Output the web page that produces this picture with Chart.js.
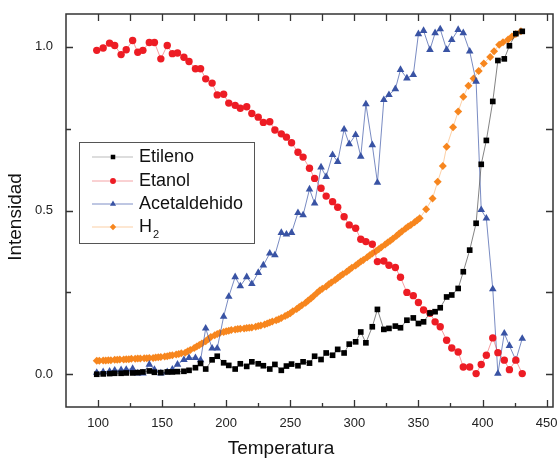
<!DOCTYPE html>
<html>
<head>
<meta charset="utf-8">
<script src="https://cdn.jsdelivr.net/npm/chart.js@4.4.0/dist/chart.umd.min.js"></script>
<style>
  html, body { margin: 0; padding: 0; background: #fff; }
</style>
</head>
<body>
<canvas id="grafico" width="559" height="459"></canvas>
<script>
// Temperaturas comunes (Etileno, Etanol, Acetaldehido)
const temperatura = [99,104,109,113,118,122,127,131,135,140,144,149,154,158,162,167,171,176,180,184,
  189,193,198,202,207,211,216,220,225,229,234,238,243,247,251,256,260,265,269,274,
  278,283,287,292,296,301,305,309,314,318,323,327,332,336,341,346,350,354,359,363,
  367,372,376,381,385,390,395,399,403,408,412,417,421,426,431];

const etileno = [0.000,0.001,0.002,0.003,0.003,0.004,0.004,0.005,0.007,0.010,
  0.006,0.005,0.007,0.007,0.008,0.009,0.012,0.020,0.033,0.016,
  0.044,0.055,0.035,0.027,0.016,0.032,0.024,0.038,0.032,0.026,
  0.016,0.030,0.012,0.025,0.031,0.026,0.038,0.034,0.055,0.045,
  0.065,0.058,0.076,0.065,0.092,0.099,0.129,0.096,0.145,0.198,
  0.137,0.140,0.147,0.142,0.165,0.172,0.155,0.160,0.187,0.191,
  0.203,0.236,0.242,0.262,0.313,0.379,0.461,0.641,0.714,0.833,
  0.958,0.963,1.003,1.040,1.047];

const etanol = [0.989,0.996,1.011,1.004,0.976,0.991,1.019,0.983,0.989,1.013,
  1.013,0.963,1.004,0.979,0.981,0.968,0.955,0.933,0.933,0.902,
  0.889,0.853,0.855,0.828,0.821,0.812,0.817,0.796,0.785,0.769,
  0.771,0.746,0.734,0.724,0.707,0.678,0.663,0.629,0.598,0.568,
  0.544,0.527,0.510,0.481,0.456,0.446,0.412,0.405,0.397,0.344,
  0.346,0.333,0.326,0.296,0.250,0.240,0.219,0.196,0.186,0.160,
  0.145,0.104,0.080,0.068,0.022,0.022,0.002,0.030,0.058,0.111,
  0.066,0.043,0.014,0.043,0.002];

const acetaldehido = [0.005,0.007,0.009,0.012,0.013,0.014,0.017,0.003,0.003,0.030,
  0.014,0.003,0.007,0.015,0.030,0.044,0.050,0.050,0.043,0.140,
  0.079,0.079,0.176,0.237,0.297,0.269,0.297,0.276,0.310,0.333,
  0.369,0.364,0.432,0.427,0.432,0.493,0.486,0.565,0.522,0.632,
  0.603,0.670,0.649,0.748,0.703,0.731,0.665,0.825,0.700,0.585,
  0.838,0.853,0.871,0.930,0.904,0.914,1.039,1.049,0.991,1.042,
  1.054,0.991,1.021,1.052,1.042,0.986,0.894,0.502,0.476,0.260,
  0.002,0.125,0.087,0.043,0.109];

// H2 medido con otra serie de temperaturas (mas densa)
const h2Temp = [99,101,104,106,108,110,113,115,117,120,122,124,126,129,131,133,136,138,140,143,
  145,147,149,152,154,156,158,161,163,165,168,170,172,175,177,179,181,184,186,188,
  191,193,195,198,200,202,204,207,209,211,214,216,218,220,223,225,227,230,232,234,
  236,239,241,243,246,248,250,252,255,257,259,262,264,266,268,271,273,275,278,280,
  282,285,287,289,291,294,296,298,301,303,305,307,310,312,314,317,319,321,324,326,
  328,330,333,335,337,340,342,344,347,349,351,356,361,365,369,372,377,381,385,389,
  393,397,401,406,409,413,416,420,423,426,430];

const h2 = [0.041,0.041,0.042,0.042,0.043,0.043,0.044,0.044,0.045,0.045,0.046,0.046,0.047,0.047,0.048,0.048,0.049,0.049,0.050,0.050,
  0.051,0.052,0.053,0.054,0.055,0.057,0.058,0.060,0.062,0.064,0.066,0.070,0.074,0.080,0.085,0.089,0.094,0.101,0.108,0.114,
  0.119,0.123,0.126,0.129,0.131,0.133,0.135,0.137,0.138,0.139,0.140,0.141,0.142,0.143,0.145,0.147,0.149,0.152,0.155,0.158,
  0.161,0.165,0.168,0.172,0.178,0.182,0.186,0.192,0.199,0.205,0.211,0.218,0.225,0.231,0.238,0.249,0.256,0.261,0.268,0.275,
  0.280,0.288,0.294,0.300,0.305,0.313,0.319,0.325,0.332,0.338,0.344,0.349,0.357,0.363,0.369,0.376,0.382,0.388,0.396,0.402,
  0.408,0.414,0.423,0.430,0.436,0.445,0.451,0.456,0.464,0.470,0.476,0.504,0.537,0.588,0.636,0.695,0.754,0.802,0.847,0.881,
  0.903,0.926,0.949,0.969,0.986,1.006,1.014,1.022,1.031,1.039,1.047];

const xTicks = [100,150,200,250,300,350,400,450];
const xMinor = [125,175,225,275,325,375,425];
const yTicks = [0, 0.5, 1.0];
const yMinor = [0.25, 0.75];

const fuente = "'Liberation Sans', Arial, sans-serif";

function puntos(xs, ys) {
  return xs.map((t, i) => ({ x: t, y: ys[i] }));
}

// Marco, marcas de los ejes, titulos y leyenda
const marcoPlugin = {
  id: 'marco',
  afterDraw(chart) {
    const ctx = chart.ctx;
    const a = chart.chartArea;
    const x = chart.scales.x, y = chart.scales.y;
    ctx.save();
    ctx.strokeStyle = '#333';
    ctx.lineWidth = 1.5;
    ctx.strokeRect(a.left, a.top, a.right - a.left, a.bottom - a.top);

    ctx.beginPath();
    xTicks.forEach(v => {
      const px = Math.round(x.getPixelForValue(v)) + 0.5;
      ctx.moveTo(px, a.bottom); ctx.lineTo(px, a.bottom - 7);
      ctx.moveTo(px, a.top); ctx.lineTo(px, a.top + 7);
    });
    xMinor.forEach(v => {
      const px = Math.round(x.getPixelForValue(v)) + 0.5;
      ctx.moveTo(px, a.bottom); ctx.lineTo(px, a.bottom - 4);
      ctx.moveTo(px, a.top); ctx.lineTo(px, a.top + 7);
    });
    yTicks.concat(yMinor).forEach(v => {
      const py = Math.round(y.getPixelForValue(v)) + 0.5;
      const l = yTicks.includes(v) ? 7 : 5;
      ctx.moveTo(a.left, py); ctx.lineTo(a.left + l, py);
      ctx.moveTo(a.right, py); ctx.lineTo(a.right - 7, py);
    });
    ctx.lineWidth = 1.3;
    ctx.stroke();

    // titulos de los ejes
    ctx.fillStyle = '#111';
    ctx.font = '19px ' + fuente;
    ctx.textAlign = 'center';
    ctx.textBaseline = 'middle';
    ctx.fillText('Temperatura', 281, 449);
    ctx.save();
    ctx.translate(16, 217);
    ctx.rotate(-Math.PI / 2);
    ctx.fillText('Intensidad', 0, 0);
    ctx.restore();

    // leyenda
    const bx = 79.5, by = 142.5, bw = 175, bh = 101;
    ctx.fillStyle = '#fff';
    ctx.fillRect(bx, by, bw, bh);
    ctx.strokeStyle = '#555';
    ctx.lineWidth = 1;
    ctx.strokeRect(bx, by, bw, bh);
    const filas = [157, 181, 204, 227];
    chart.data.datasets.forEach((ds, i) => {
      const ly = filas[i];
      ctx.beginPath();
      ctx.strokeStyle = ds.legendLine;
      ctx.lineWidth = 1;
      ctx.moveTo(92, ly); ctx.lineTo(133, ly);
      ctx.stroke();
      ctx.fillStyle = ds.pointBackgroundColor;
      ctx.strokeStyle = ds.pointBorderColor;
      Chart.helpers.drawPoint(ctx, {
        pointStyle: ds.pointStyle, radius: ds.pointRadius * 0.8, rotation: 0, borderWidth: 0
      }, 113, ly);
      ctx.fillStyle = '#111';
      ctx.font = '18px ' + fuente;
      ctx.textBaseline = 'middle';
      ctx.textAlign = 'left';
      if (ds.label === 'H2') {
        ctx.fillText('H', 139, ly);
        const w = ctx.measureText('H').width;
        ctx.font = '11px ' + fuente;
        ctx.fillText('2', 139 + w + 1, ly + 8);
      } else {
        ctx.fillText(ds.label, 139, ly);
      }
    });
    ctx.restore();
  }
};

new Chart(document.getElementById('grafico'), {
  type: 'line',
  data: {
    datasets: [
      {
        label: 'Etileno',
        data: puntos(temperatura, etileno),
        borderColor: 'rgba(60,60,60,0.8)', borderWidth: 0.8,
        pointStyle: 'rect', pointRadius: 4,
        pointBackgroundColor: '#000', pointBorderColor: '#000', pointBorderWidth: 0,
        legendLine: '#bbb'
      },
      {
        label: 'Etanol',
        data: puntos(temperatura, etanol),
        borderColor: 'rgba(237,28,36,0.55)', borderWidth: 0.8,
        pointStyle: 'circle', pointRadius: 3.7,
        pointBackgroundColor: '#ED1C24', pointBorderColor: '#ED1C24', pointBorderWidth: 0,
        legendLine: '#f4a3a6'
      },
      {
        label: 'Acetaldehido',
        data: puntos(temperatura, acetaldehido),
        borderColor: 'rgba(57,83,164,0.85)', borderWidth: 0.8,
        pointStyle: 'triangle', pointRadius: 4.4,
        pointBackgroundColor: '#3953A4', pointBorderColor: '#3953A4', pointBorderWidth: 0,
        legendLine: '#7f8fc6'
      },
      {
        label: 'H2',
        data: puntos(h2Temp, h2),
        borderColor: 'rgba(247,134,30,0.5)', borderWidth: 0.8,
        pointStyle: 'rectRot', pointRadius: 4,
        pointBackgroundColor: '#F7861E', pointBorderColor: '#F7861E', pointBorderWidth: 0,
        legendLine: '#fbcfa5'
      }
    ]
  },
  options: {
    responsive: false,
    animation: false,
    layout: { padding: { top: 14, right: 6, left: 0, bottom: 0 } },
    plugins: { legend: { display: false }, tooltip: { enabled: false } },
    scales: {
      x: {
        type: 'linear', min: 75, max: 455,
        afterBuildTicks: s => { s.ticks = xTicks.map(v => ({ value: v })); },
        afterFit: s => { s.height = 52; s.paddingLeft = 0; s.paddingRight = 0; },
        grid: { display: false }, border: { display: false },
        ticks: { color: '#222', padding: 1, font: { family: fuente, size: 13 }, maxRotation: 0 },
        title: { display: false }
      },
      y: {
        type: 'linear', min: -0.1, max: 1.1,
        afterBuildTicks: s => { s.ticks = yTicks.map(v => ({ value: v })); },
        afterFit: s => { s.width = 66; s.paddingTop = 0; s.paddingBottom = 0; },
        grid: { display: false }, border: { display: false },
        ticks: { color: '#222', padding: 5, font: { family: fuente, size: 13 },
                 callback: v => v.toFixed(1) },
        title: { display: false }
      }
    }
  },
  plugins: [marcoPlugin]
});
</script>
</body>
</html>
